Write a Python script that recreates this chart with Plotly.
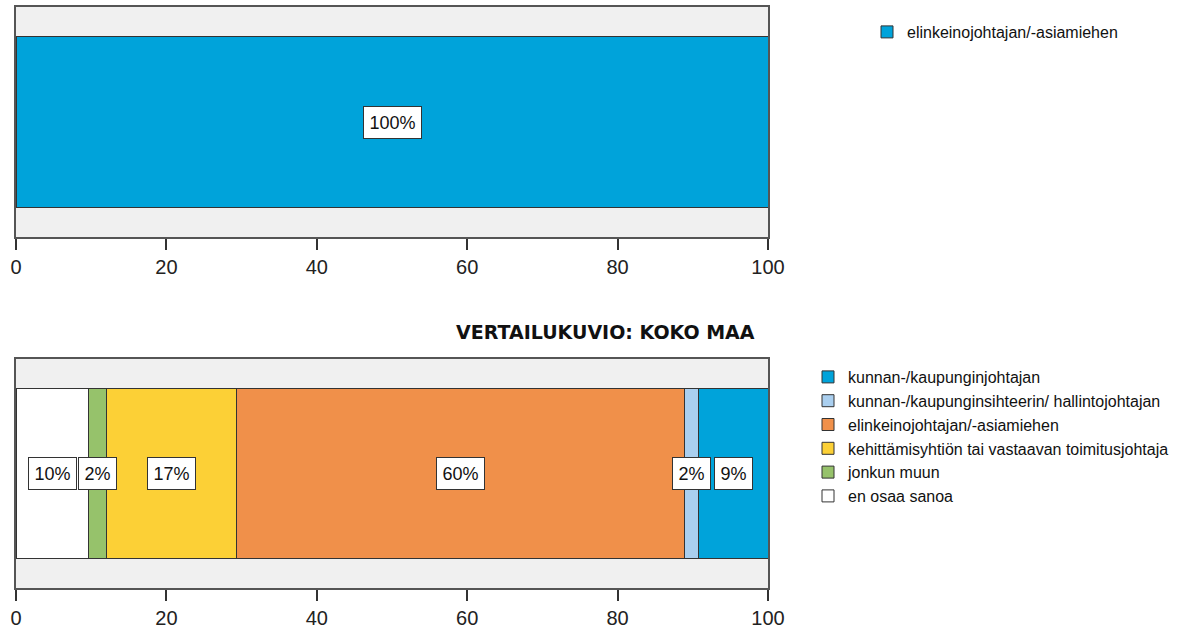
import plotly.graph_objects as go

# ---- data ----
top_series = ["elinkeinojohtajan/-asiamiehen"]
top_values = [100]
top_colors = ["#00A3DA"]

bottom_series = [
    "en osaa sanoa",
    "jonkun muun",
    "kehittämisyhtiön tai vastaavan toimitusjohtaja",
    "elinkeinojohtajan/-asiamiehen",
    "kunnan-/kaupunginsihteerin/ hallintojohtajan",
    "kunnan-/kaupunginjohtajan",
]
bottom_values = [9.6, 2.4, 17.3, 59.6, 1.8, 9.3]
bottom_colors = ["#FFFFFF", "#96C26B", "#FCD036", "#F0904A", "#AACFEF", "#00A3DA"]

tick_vals = [0, 20, 40, 60, 80, 100]
tick_text = ["0", "20", "40", "60", "80", "100"]
title2 = "VERTAILUKUVIO: KOKO MAA"

W, H = 1179, 634
FONT = "Liberation Sans, Arial, sans-serif"
fig = go.Figure()

for name, val, col in zip(top_series, top_values, top_colors):
    fig.add_trace(go.Bar(
        x=[val], y=[0], orientation="h", name=name,
        marker=dict(color=col, line=dict(color="#333333", width=1)),
        xaxis="x", yaxis="y", legend="legend", hoverinfo="skip",
    ))

for name, val, col in zip(bottom_series, bottom_values, bottom_colors):
    fig.add_trace(go.Bar(
        x=[val], y=[0], orientation="h", name=name,
        marker=dict(color=col, line=dict(color="#333333", width=1)),
        xaxis="x2", yaxis="y2", legend="legend2", hoverinfo="skip",
    ))

annotations = []
def add_labels(values, xref, yref):
    cum = 0
    for v in values:
        annotations.append(dict(
            x=cum + v / 2, y=0, xref=xref, yref=yref,
            text=f"{round(v)}%", showarrow=False,
            font=dict(family=FONT, size=18, color="#111111"),
            bgcolor="#FFFFFF", bordercolor="#333333", borderwidth=1, borderpad=5.5,
        ))
        cum += v

add_labels(top_values, "x", "y")
add_labels(bottom_values, "x2", "y2")

annotations.append(dict(
    text=f"<b>{title2}</b>", x=757 / W, y=1 - 332 / H, xref="paper", yref="paper",
    xanchor="right", yanchor="middle", showarrow=False,
    font=dict(family="DejaVu Sans", size=19, color="#111111"),
))

xdom = [16 / W, 768 / W]
xaxis_common = dict(
    range=[0, 100], tickvals=tick_vals, ticktext=tick_text, showgrid=False,
    zeroline=False, showline=True, linecolor="#555555", linewidth=1.5, mirror=True,
    ticks="outside", ticklen=11, tickwidth=1.5, tickcolor="#333333",
    tickfont=dict(family=FONT, size=20, color="#222222"),
    fixedrange=True, automargin=False,
)
yaxis_common = dict(
    range=[-0.5, 0.5], showticklabels=False, showgrid=False, zeroline=False,
    showline=True, linecolor="#555555", linewidth=1.5, mirror=True, ticks="",
    fixedrange=True, automargin=False,
)

fig.update_layout(
    width=W, height=H, barmode="stack", bargap=0.256,
    paper_bgcolor="#FFFFFF", plot_bgcolor="#F0F0F0",
    margin=dict(l=0, r=0, t=0, b=0, autoexpand=False),
    xaxis=dict(domain=xdom, anchor="y", **xaxis_common),
    yaxis=dict(domain=[1 - 237 / H, 1 - 7 / H], anchor="x", **yaxis_common),
    xaxis2=dict(domain=xdom, anchor="y2", **xaxis_common),
    yaxis2=dict(domain=[1 - 588 / H, 1 - 359 / H], anchor="x2", **yaxis_common),
    legend=dict(
        x=(907 - 40) / W, y=1 - 32 / H, xanchor="left", yanchor="middle",
        font=dict(family=FONT, size=16, color="#111111"),
        bgcolor="rgba(0,0,0,0)", traceorder="normal",
    ),
    legend2=dict(
        x=(848 - 40) / W, y=1 - 436.5 / H, xanchor="left", yanchor="middle",
        font=dict(family=FONT, size=16, color="#111111"),
        bgcolor="rgba(0,0,0,0)", traceorder="reversed", tracegroupgap=0,
    ),
    annotations=annotations,
    showlegend=True,
)

fig.write_html(
    "out.html",
    config={"displayModeBar": False},
    post_script="document.body.style.margin='0';document.body.style.overflow='hidden';",
)
